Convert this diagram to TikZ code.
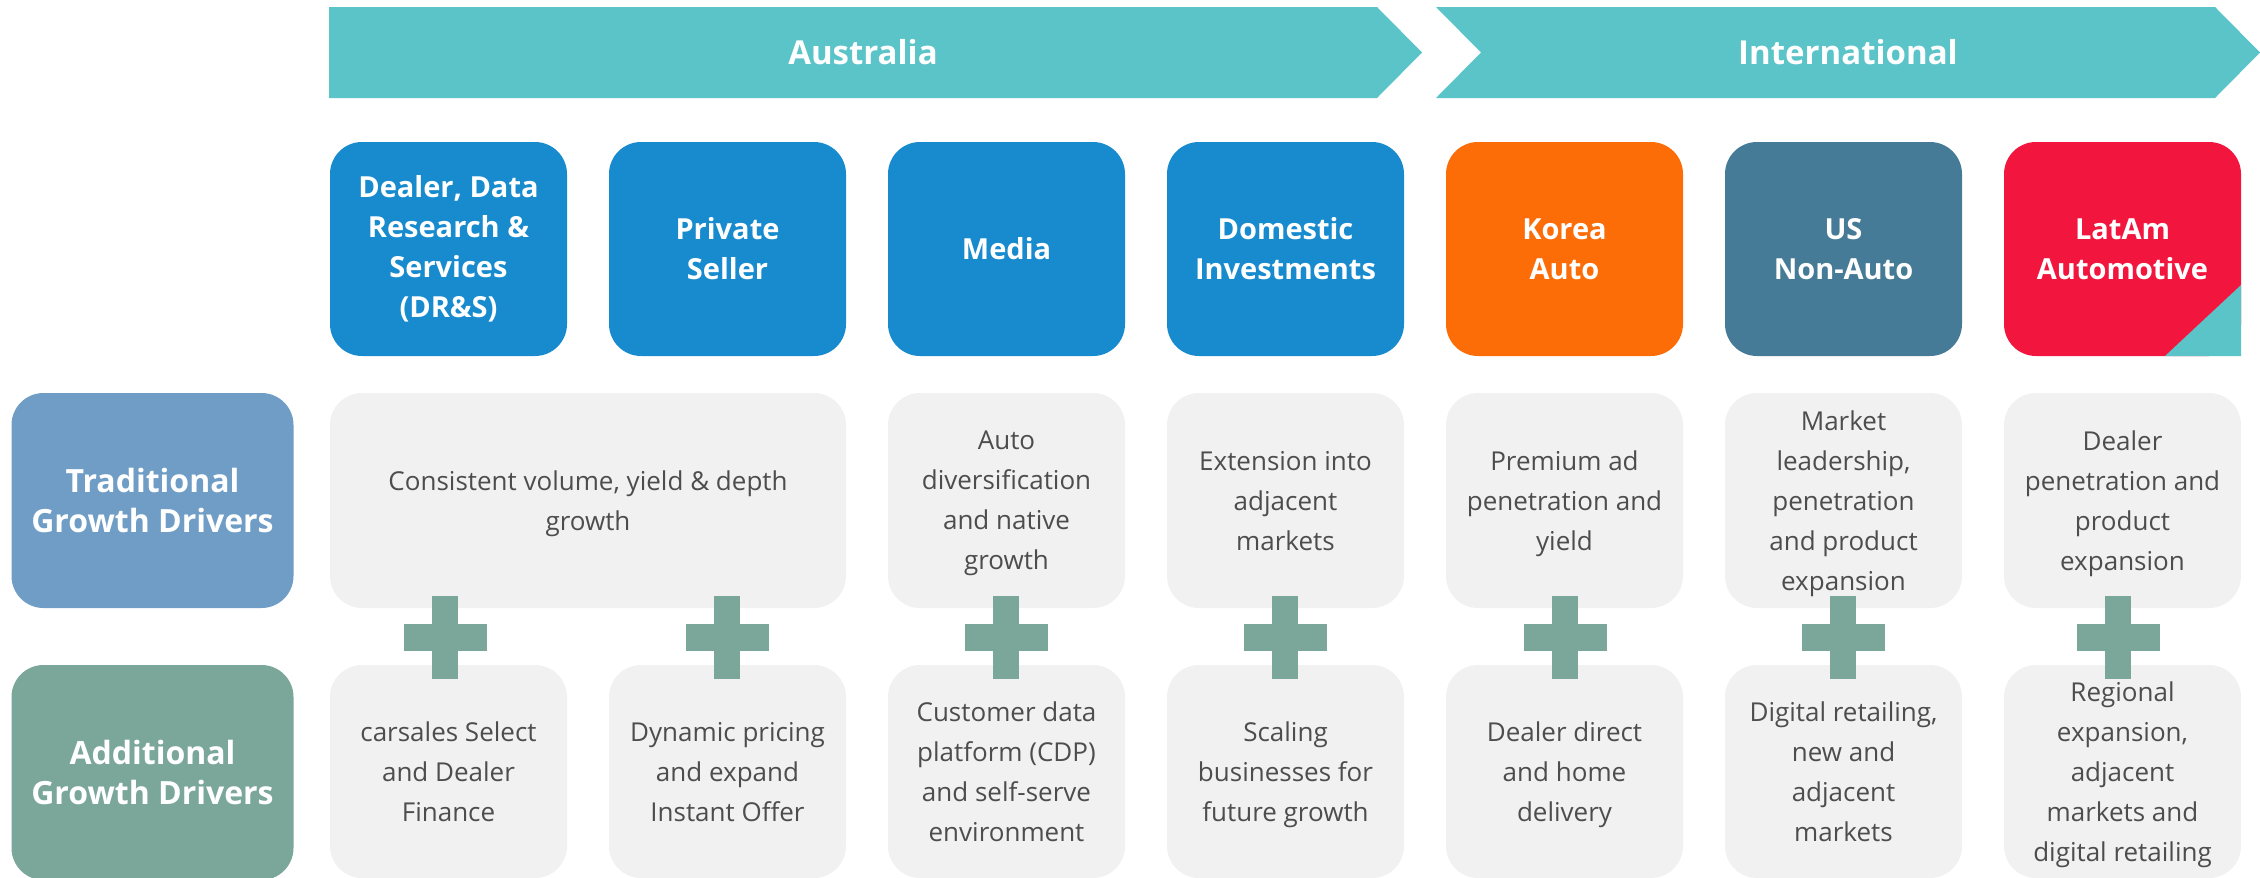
\documentclass[tikz,border=0pt]{standalone}
\usepackage{fontspec}
\setmainfont{Open Sans}
\usetikzlibrary{backgrounds}
\definecolor{bannerteal}{HTML}{5BC4C8}
\definecolor{segblue}{HTML}{178BCE}
\definecolor{segorange}{HTML}{FC6D08}
\definecolor{segslate}{HTML}{457B96}
\definecolor{segred}{HTML}{F2163E}
\definecolor{tradblue}{HTML}{6F9DC5}
\definecolor{sage}{HTML}{7BA79B}
\definecolor{cardgray}{HTML}{F1F1F1}
\definecolor{inkgray}{HTML}{4D4D4D}
\tikzset{
  segbox/.style={anchor=north west, minimum width=237pt, minimum height=214pt,
    inner sep=0pt, outer sep=0pt, rounded corners=32pt, align=center,
    text=white, font=\bfseries\fontsize{29}{40}\selectfont},
  rowlabel/.style={anchor=north west, minimum width=282pt, minimum height=215pt,
    inner sep=0pt, outer sep=0pt, rounded corners=32pt, align=center,
    text=white, font=\bfseries\fontsize{32}{40}\selectfont},
  card/.style={anchor=north west, minimum width=237pt, minimum height=215pt,
    inner sep=0pt, outer sep=0pt, rounded corners=32pt, align=center,
    text depth=-10pt,
    fill=cardgray, text=inkgray, font=\fontsize{26}{40}\selectfont},
  bannertext/.style={anchor=base, text=white, font=\bfseries\fontsize{33}{40}\selectfont},
}
\begin{document}
\begin{tikzpicture}[x=1pt,y=-1pt]
\useasboundingbox (0,0) rectangle (2260,878);

% region banners
\fill[bannerteal] (329,7) -- (1377,7) -- (1422,52.5) -- (1377,98) -- (329,98) -- cycle;
\fill[bannerteal] (1436,7) -- (2215,7) -- (2260,52.5) -- (2215,98) -- (1436,98) -- (1481,52.5) -- cycle;
\node[bannertext] (aus) at (863,64) {Australia};
\node[bannertext] (intl) at (1848,64) {International};

% business segments
\node[segbox, fill=segblue]   (drs)   at (330,142)  {Dealer, Data\\Research \&\\Services\\(DR\&S)};
\node[segbox, fill=segblue]   (priv)  at (609,142)  {Private\\Seller};
\node[segbox, fill=segblue]   (media) at (888,142)  {Media};
\node[segbox, fill=segblue]   (dom)   at (1167,142) {Domestic\\Investments};
\node[segbox, fill=segorange] (korea) at (1446,142) {Korea\\Auto};
\node[segbox, fill=segslate]  (us)    at (1725,142) {US\\Non-Auto};
\node[segbox]                 (latam) at (2004,142) {LatAm\\Automotive};
\begin{scope}[on background layer]
  \fill[segred, rounded corners=32pt] (latam.north west) rectangle (latam.south east);
  \fill[bannerteal] (latam.south east) ++(0,-71) -- (latam.south east) -- ++(-76,0) -- cycle;
\end{scope}

% row labels
\node[rowlabel, fill=tradblue] (trad) at (11.5,393) {Traditional\\Growth Drivers};
\node[rowlabel, fill=sage]     (add)  at (11.5,665) {Additional\\Growth Drivers};

% traditional growth drivers
\node[card, minimum width=516pt] (t1) at (330,393) {Consistent volume, yield \& depth\\growth};
\node[card] (t3) at (888,393)  {Auto\\diversification\\and native\\growth};
\node[card] (t4) at (1167,393) {Extension into\\adjacent\\markets};
\node[card] (t5) at (1446,393) {Premium ad\\penetration and\\yield};
\node[card] (t6) at (1725,393) {Market\\leadership,\\penetration\\and product\\expansion};
\node[card] (t7) at (2004,393) {Dealer\\penetration and\\product\\expansion};

% additional growth drivers
\node[card, minimum height=213pt] (a1) at (330,665)  {carsales Select\\and Dealer\\Finance};
\node[card, minimum height=213pt] (a2) at (609,665)  {Dynamic pricing\\and expand\\Instant Offer};
\node[card, minimum height=213pt] (a3) at (888,665)  {Customer data\\platform (CDP)\\and self-serve\\environment};
\node[card, minimum height=213pt] (a4) at (1167,665) {Scaling\\businesses for\\future growth};
\node[card, minimum height=213pt] (a5) at (1446,665) {Dealer direct\\and home\\delivery};
\node[card, minimum height=213pt] (a6) at (1725,665) {Digital retailing,\\new and\\adjacent\\markets};
\node[card, minimum height=213pt] (a7) at (2004,665) {Regional\\expansion,\\adjacent\\markets and\\digital retailing};

% plus signs joining the two rows
\foreach \cx in {445,727,1006,1285,1565,1843,2118}{
  \fill[sage] (\cx-13.25,596) rectangle (\cx+13.25,679);
  \fill[sage] (\cx-41.5,624) rectangle (\cx+41.5,651);
}
\end{tikzpicture}
\end{document}
